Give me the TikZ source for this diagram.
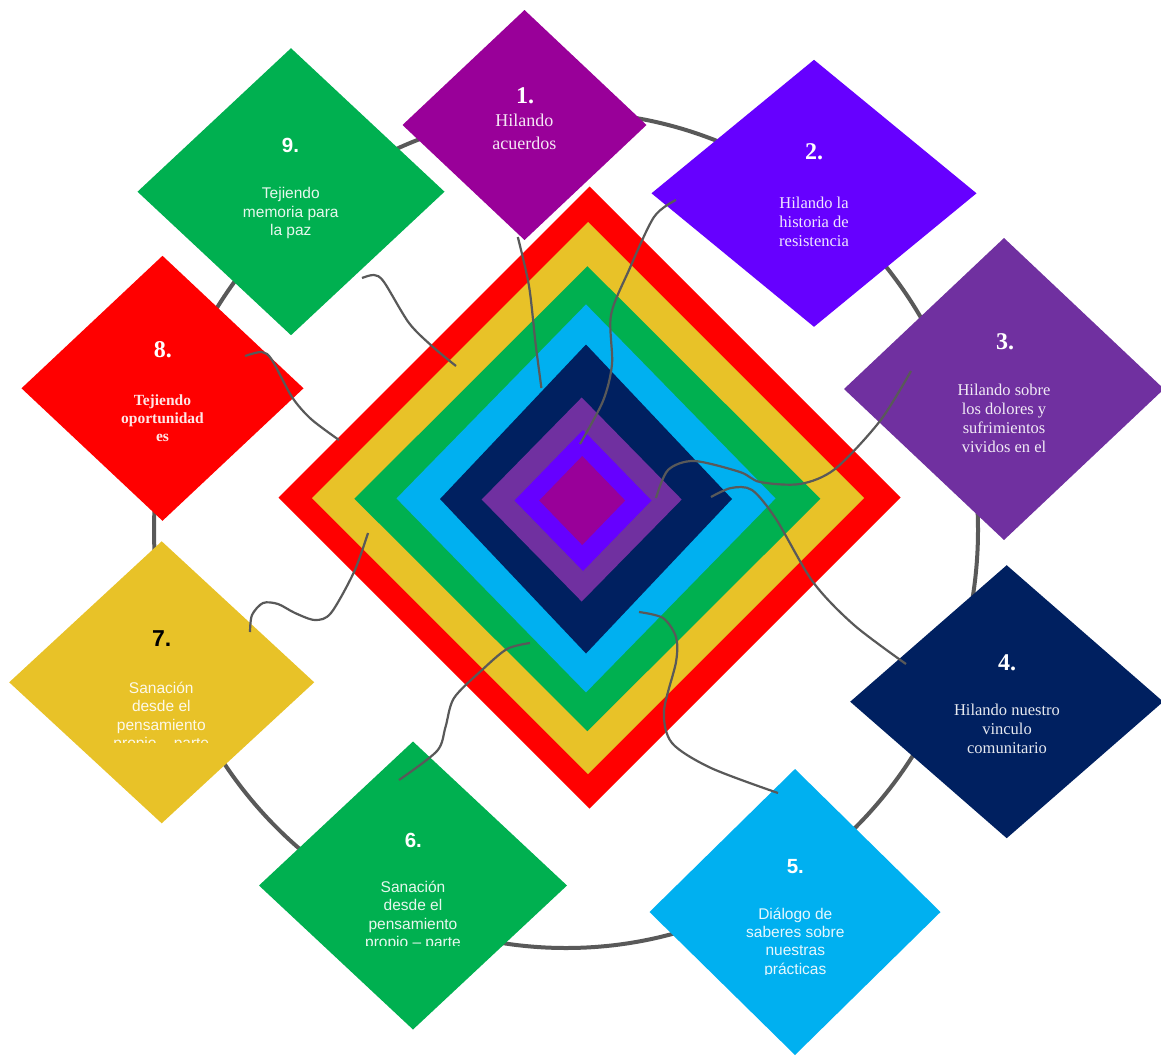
\documentclass[tikz,border=0pt]{standalone}
\usepackage{fontspec}
\setmainfont{Liberation Serif}
\setsansfont{Liberation Sans}
\usetikzlibrary{shapes.geometric}
\definecolor{plum}{HTML}{990099}
\definecolor{violet}{HTML}{6600FF}
\definecolor{grape}{HTML}{7030A0}
\definecolor{navy}{HTML}{002060}
\definecolor{sky}{HTML}{00B0F0}
\definecolor{leaf}{HTML}{00B050}
\definecolor{gold}{HTML}{E8C228}
\definecolor{scarlet}{HTML}{FF0000}
\definecolor{rimgray}{HTML}{595959}

\begin{document}
\begin{tikzpicture}[x=1pt,y=-1pt,
  petal/.style={shape=diamond,inner sep=0pt,outer sep=0pt},
  numrm/.style={font=\rmfamily\bfseries\fontsize{24}{28}\selectfont,text=white},
  numsf/.style={font=\sffamily\bfseries\fontsize{20.5}{24}\selectfont,text=white},
  bodyrm/.style={font=\rmfamily\fontsize{16.5}{19}\selectfont,text=white,text opacity=.9,align=center},
  bodysf/.style={font=\sffamily\fontsize{15.5}{18.3}\selectfont,text=white,text opacity=.9,align=center},
  thread/.style={draw=rimgray,line width=2.2pt}]
\useasboundingbox (0,0) rectangle (1161,1055);
% outer rim behind the nine steps
\draw[rimgray,line width=4pt] (566,530) ellipse [x radius=412,y radius=418];
% nested centre, outermost first
\foreach \col/\cx/\cy/\w/\h [count=\i] in {scarlet/589.5/497.5/622/622,gold/588/498/552/552,
    leaf/587.4/498.7/466/465,sky/586/498.4/379/388,navy/586/499/292/309,
    grape/581.7/499.5/200/204,violet/583/500.5/137/141,plum/582.2/500.5/86/89}
  \node[petal,fill=\col,minimum width=\w pt,minimum height=\h pt] (r\i) at (\cx,\cy) {};
% the nine steps
\node[petal,fill=plum,minimum width=244pt,minimum height=230pt] (d1) at (524.5,125) {};
\node[petal,fill=violet,minimum width=325pt,minimum height=267pt] (d2) at (814,193.3) {};
\node[petal,fill=grape,minimum width=320pt,minimum height=302pt] (d3) at (1004,389) {};
\node[petal,fill=navy,minimum width=313pt,minimum height=273pt] (d4) at (1006.7,701.7) {};
\node[petal,fill=sky,minimum width=291pt,minimum height=286pt] (d5) at (795,912) {};
\node[petal,fill=leaf,minimum width=308pt,minimum height=288pt] (d6) at (413,885.5) {};
\node[petal,fill=gold,minimum width=305pt,minimum height=282pt] (d7) at (161.7,682.3) {};
\node[petal,fill=scarlet,minimum width=282pt,minimum height=265pt] (d8) at (162.5,388.3) {};
\node[petal,fill=leaf,minimum width=307pt,minimum height=287pt] (d9) at (291,191.7) {};
\node[numrm] (n1) at (525,95.3) {1.};
\node[bodyrm,font=\rmfamily\fontsize{18}{23}\selectfont] (t1) at (524.3,131.5) {Hilando\\acuerdos};
\node[numrm] (n2) at (814,151.7) {2.};
\node[bodyrm] (t2) at (814,222) {Hilando la\\historia de\\resistencia};
\node[numrm] (n3) at (1005,341.3) {3.};
\node[bodyrm] (t3) at (1004,418) {Hilando sobre\\los dolores y\\sufrimientos\\vividos en el};
\node[numrm] (n4) at (1007,662.5) {4.};
\node[bodyrm] (t4) at (1007,729) {Hilando nuestro\\vinculo\\comunitario};
\node[numsf] (n5) at (795.3,866.8) {5.};
\begin{scope}
  \clip (650,880) rectangle (940,974.5);
  \node[bodysf] (t5) at (795.3,942.5) {Diálogo de\\saberes sobre\\nuestras\\prácticas};
\end{scope}
\node[numsf] (n6) at (413.3,840) {6.};
\begin{scope}
  \clip (260,860) rectangle (566,945);
  \node[bodysf] (t6) at (413,916) {Sanación\\desde el\\pensamiento\\propio – parte};
\end{scope}
\node[numsf,text=black,font=\sffamily\bfseries\fontsize{23}{26}\selectfont] (n7) at (161.7,638.3) {7.};
\begin{scope}
  \clip (10,660) rectangle (314,742);
  \node[bodysf] (t7) at (161.3,716.8) {Sanación\\desde el\\pensamiento\\propio – parte};
\end{scope}
\node[numrm] (n8) at (162.8,350) {8.};
\node[bodyrm,font=\rmfamily\bfseries\fontsize{15.5}{18.3}\selectfont] (t8) at (162.5,418) {Tejiendo\\oportunidad\\es};
\node[numsf] (n9) at (290.5,145) {9.};
\node[bodysf] (t9) at (290.8,213) {Tejiendo\\memoria para\\la paz};
% threads from each step into the centre
\coordinate (s1) at (517.8,237);  \coordinate (e1) at (541.4,388);
\coordinate (s2) at (676,200);    \coordinate (e2) at (580,444);
\coordinate (s3) at (911,371);    \coordinate (e3) at (656,498);
\coordinate (s4) at (906,664);    \coordinate (e4) at (711,497);
\coordinate (s5) at (778,793);    \coordinate (e5) at (639,612);
\coordinate (s6) at (399,780);    \coordinate (e6) at (530,643);
\coordinate (s7) at (250,632);    \coordinate (e7) at (368,533);
\coordinate (s8) at (245,356);    \coordinate (e8) at (339,440);
\coordinate (s9) at (362,278);    \coordinate (e9) at (456,366);
\draw[thread] plot[smooth] coordinates {(s1) (529,286) (535.5,343) (e1)};
\draw[thread] plot[smooth] coordinates {(s2) (654,217) (629,270) (611,315) (612,364) (603,401) (e2)};
\draw[thread] plot[smooth] coordinates {(s3) (880,421) (835,469) (800,484) (760,482) (740,472) (694,461) (668,470) (e3)};
\draw[thread] plot[smooth] coordinates {(s4) (854,625) (813,582) (776,519) (752,490) (731,488) (e4)};
\draw[thread] plot[smooth] coordinates {(s5) (711,768) (672,743) (664,711) (676,662) (676,637) (663,618) (e5)};
\draw[thread] plot[smooth] coordinates {(s6) (437,751) (445.5,727) (454,698) (482,670) (507,649) (e6)};
\draw[thread] plot[smooth] coordinates {(s7) (252,615) (263,603) (278,604) (295,613) (315,620) (331,613) (354,572) (e7)};
\draw[thread] plot[smooth] coordinates {(s8) (262,352) (272,360) (292,397) (311,419) (e8)};
\draw[thread] plot[smooth] coordinates {(s9) (374,275) (384,282) (409,323) (433,347) (e9)};
\end{tikzpicture}
\end{document}
